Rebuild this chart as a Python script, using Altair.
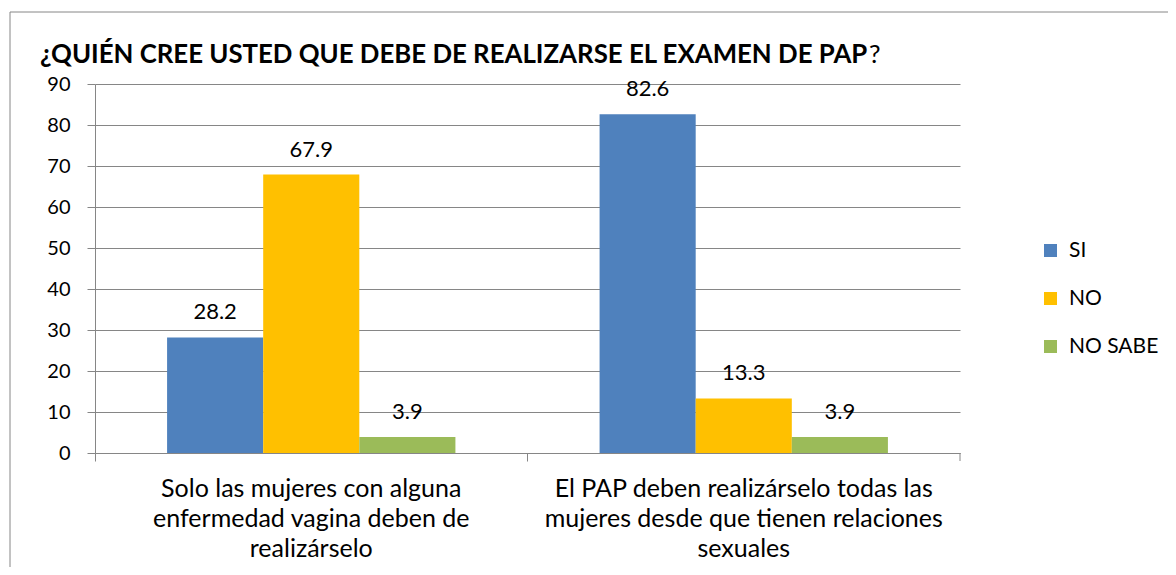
import altair as alt
import pandas as pd

categories = [
    "Solo las mujeres con alguna|enfermedad vagina deben de|realizárselo",
    "El PAP deben realizárselo todas las|mujeres desde que tienen relaciones|sexuales",
]
series = ["SI", "NO", "NO SABE"]
si_vals = [28.2, 82.6]
no_vals = [67.9, 13.3]
nosabe_vals = [3.9, 3.9]
colors = ["#4F81BD", "#FFC000", "#9BBB59"]
y_ticks = [0, 10, 20, 30, 40, 50, 60, 70, 80, 90]
title_bold = "¿QUIÉN CREE USTED QUE DEBE DE REALIZARSE EL EXAMEN DE PAP"
title_tail = "?"

FONT = "Lato"
GRAY = "#868686"
W, H = 865, 369

rows = []
for s, vals in zip(series, [si_vals, no_vals, nosabe_vals]):
    for c, v in zip(categories, vals):
        rows.append({"cat": c, "serie": s, "val": v})
df = pd.DataFrame(rows)

x_enc = alt.X(
    "cat:N", sort=categories,
    scale=alt.Scale(paddingInner=0, paddingOuter=0),
    axis=alt.Axis(
        title=None, labelAngle=0, labelExpr="split(datum.label, '|')",
        labelFontSize=25, labelLineHeight=30, labelFont=FONT, labelColor="black",
        labelPadding=15, labelBaseline="top", labelLimit=0,
        bandPosition=0, tickSize=8, tickColor=GRAY, domainColor=GRAY, grid=False,
    ),
)
xo_enc = alt.XOffset(
    "serie:N", sort=series,
    scale=alt.Scale(paddingInner=0, paddingOuter=0.75),
)
y_enc = alt.Y(
    "val:Q",
    scale=alt.Scale(domain=[0, 90], nice=False),
    axis=alt.Axis(
        title=None, values=y_ticks, labelFontSize=20, labelFont=FONT,
        labelColor="black", labelPadding=17, tickSize=8, tickColor=GRAY,
        domainColor=GRAY, gridColor=GRAY, grid=True,
    ),
)

base = alt.Chart(df)

frame = alt.Chart(pd.DataFrame({"k": [0]})).mark_rect(
    fillOpacity=0, stroke=GRAY, strokeWidth=1
).encode(
    x=alt.value(-85), x2=alt.value(1300), y=alt.value(-72), y2=alt.value(700)
)

bars = base.mark_bar().encode(
    x=x_enc, xOffset=xo_enc, y=y_enc,
    color=alt.Color(
        "serie:N", sort=series,
        scale=alt.Scale(domain=series, range=colors),
        legend=alt.Legend(
            title=None, orient="none", legendX=945, legendY=156,
            symbolType="square", symbolSize=169, symbolStrokeWidth=0,
            labelFontSize=21, labelFont=FONT, labelColor="black",
            rowPadding=26, labelOffset=8,
        ),
    ),
)

labels = base.mark_text(
    dy=-18, fontSize=22, font=FONT, color="black", baseline="alphabetic"
).encode(
    x=x_enc, xOffset=xo_enc, y=y_enc,
    text=alt.Text("val:Q", format=".1f"),
)

end_tick = alt.Chart(pd.DataFrame({"k": [0]})).mark_rule(
    color=GRAY, strokeWidth=1
).encode(x=alt.value(W), y=alt.value(H), y2=alt.value(H + 8))

t1 = alt.Chart(pd.DataFrame({"t": [title_bold]})).mark_text(
    align="left", baseline="alphabetic", fontWeight="bold", fontSize=25.8,
    font=FONT, color="black"
).encode(x=alt.value(-55), y=alt.value(-21), text="t:N")

t2 = alt.Chart(pd.DataFrame({"t": [title_tail]})).mark_text(
    align="left", baseline="alphabetic", fontSize=25.8, font=FONT, color="black"
).encode(x=alt.value(774), y=alt.value(-21), text="t:N")

chart = alt.layer(frame, bars, labels, end_tick, t1, t2).properties(
    width=W, height=H,
    autosize=alt.AutoSizeParams(type="none"),
    padding={"left": 87, "top": 76, "right": 208, "bottom": 114},
    background="white",
).configure_view(stroke=None)

chart.save("out.html", embed_options={"renderer": "svg", "actions": False})
